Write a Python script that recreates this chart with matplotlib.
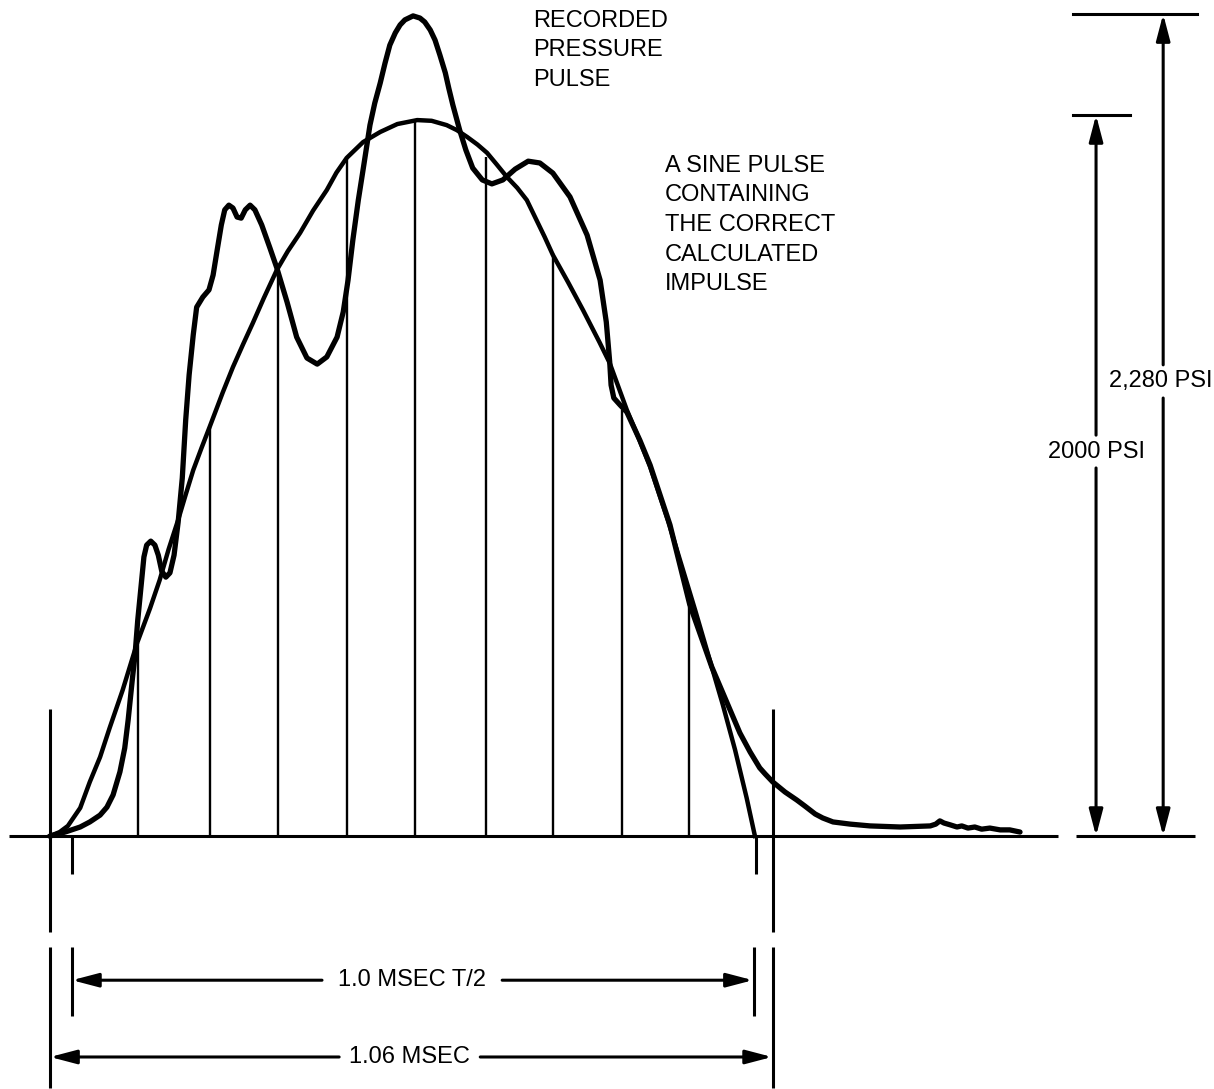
import numpy as np
import matplotlib.pyplot as plt

plt.rcParams['font.family'] = ['Liberation Sans', 'DejaVu Sans']

# recorded pressure pulse (time in msec, pressure in psi)
rec_t = [-0.032, -0.010, 0.012, 0.026, 0.041, 0.051, 0.060, 0.070, 0.077, 0.082,
         0.088, 0.092, 0.096, 0.101, 0.105, 0.109, 0.115, 0.121, 0.126, 0.131,
         0.137, 0.143, 0.149, 0.155, 0.161, 0.166, 0.171, 0.177, 0.182, 0.191,
         0.200, 0.206, 0.212, 0.218, 0.223, 0.229, 0.235, 0.241, 0.247, 0.253,
         0.260, 0.267, 0.277, 0.289, 0.299, 0.314, 0.328, 0.343, 0.358, 0.372,
         0.387, 0.396, 0.403, 0.410, 0.418, 0.426, 0.435, 0.442, 0.450, 0.457,
         0.464, 0.472, 0.479, 0.486, 0.498, 0.508, 0.515, 0.523, 0.530, 0.537,
         0.545, 0.550, 0.556, 0.566, 0.575, 0.585, 0.599, 0.613,
         0.629, 0.647, 0.666, 0.683, 0.702, 0.727, 0.752, 0.771, 0.780, 0.785,
         0.787, 0.791, 0.800, 0.810, 0.829, 0.844, 0.873, 0.902, 0.934, 0.975,
         0.990, 1.004, 1.012, 1.023, 1.041, 1.058, 1.070, 1.085, 1.096, 1.111,
         1.136, 1.165, 1.209, 1.253, 1.261, 1.267,
         1.273, 1.282, 1.292, 1.299, 1.308, 1.318, 1.328, 1.340, 1.355, 1.369,
         1.384]
rec_p = [0, 11, 25, 39, 58, 80, 114, 178, 244, 322,
         433, 502, 599, 696, 774, 807, 818, 807, 779, 735,
         718, 730, 779, 871, 993, 1154, 1279, 1390, 1467, 1495,
         1515, 1556, 1626, 1695, 1737, 1750, 1742, 1717, 1714, 1737,
         1750, 1737, 1695, 1631, 1576, 1481, 1384, 1326, 1309, 1329,
         1384, 1454, 1542, 1653, 1764, 1861, 1972, 2033, 2089, 2144,
         2194, 2228, 2250, 2264, 2275, 2269, 2258, 2236, 2208, 2167,
         2117, 2075, 2028, 1958, 1903, 1853, 1820, 1809,
         1820, 1850, 1872, 1867, 1839, 1773, 1667, 1542, 1426, 1315,
         1251, 1215, 1196, 1176, 1098, 1029, 863, 641, 469, 286,
         233, 189, 172, 150, 122, 100, 83, 61, 50, 39,
         33, 28, 25, 28, 33, 42,
         36, 31, 25, 28, 22, 25, 19, 22, 17, 17,
         11]

# sine pulse with the correct impulse
sine_t = [-0.032, -0.018, -0.006, 0.012, 0.026, 0.041, 0.055, 0.074, 0.095, 0.114,
          0.128, 0.141, 0.155, 0.166, 0.177, 0.189, 0.201, 0.220, 0.235, 0.250,
          0.264, 0.280, 0.299, 0.315, 0.333, 0.352, 0.372, 0.386, 0.401, 0.425,
          0.450, 0.475, 0.504, 0.525, 0.547, 0.562, 0.577, 0.592, 0.606, 0.620,
          0.635, 0.650, 0.664, 0.690, 0.702, 0.724, 0.746, 0.770, 0.785, 0.810,
          0.827, 0.844, 0.870, 0.892, 0.910, 0.934, 0.950, 0.968, 0.985, 0.997]
sine_p = [0, 11, 28, 78, 150, 219, 300, 405, 535, 632,
          710, 795, 877, 947, 1015, 1076, 1135, 1230, 1301, 1365,
          1423, 1492, 1570, 1622, 1673, 1735, 1792, 1840, 1881, 1925,
          1953, 1975, 1986, 1984, 1972, 1958, 1939, 1918, 1895, 1863,
          1828, 1798, 1764, 1662, 1612, 1537, 1459, 1370, 1312, 1182,
          1105, 1024, 875, 738, 625, 469, 365, 239, 105, 0]

# ordinates drawn under the sine pulse
ord_t = [0.096, 0.201, 0.301, 0.401, 0.501, 0.604, 0.702, 0.803, 0.901]
ord_p = [535, 1140, 1578, 1881, 1986, 1884, 1617, 1182, 635]

peak_sine = 2000
peak_rec = 2280

fig = plt.figure(figsize=(12.14, 10.89), dpi=100)
ax = fig.add_axes([0, 0, 1, 1])
ax.set_xlim(-0.1051, 1.6672)
ax.set_ylim(-701.8, 2319.1)
ax.axis('off')

k = 'black'

# base line
ax.plot([-0.092, 1.439], [0, 0], color=k, lw=2.2, solid_capstyle='butt')
ax.plot([1.466, 1.639], [0, 0], color=k, lw=2.2, solid_capstyle='butt')

# ordinates
ax.vlines(ord_t, 0, ord_p, color=k, lw=1.7)

# curves
ax.plot(sine_t, sine_p, color=k, lw=3.2, solid_joinstyle='round')
ax.plot(rec_t, rec_p, color=k, lw=3.8, solid_joinstyle='round', solid_capstyle='round')

# peak reference lines
ax.plot([1.461, 1.642], [peak_rec, peak_rec], color=k, lw=2.2)
ax.plot([1.461, 1.545], [peak_sine, peak_sine], color=k, lw=2.2)

arw = dict(arrowstyle='-|>,head_length=1.6,head_width=0.42', color=k, lw=2.2,
           shrinkA=0, shrinkB=0, mutation_scale=10)

def arrow(x0, y0, x1, y1):
    ax.annotate('', xy=(x1, y1), xytext=(x0, y0), arrowprops=arw)

# vertical dimension arrows
arrow(1.495, 1112, 1.495, peak_sine)
arrow(1.495, 1021, 1.495, 0)
arrow(1.593, 1307, 1.593, peak_rec)
arrow(1.593, 1215, 1.593, 0)
ax.text(1.495, 1066, '2000 PSI', ha='center', va='center', fontsize=17)
ax.text(1.590, 1261, '2,280 PSI', ha='center', va='center', fontsize=17)

# extension lines at the ends of the pulses
ax.vlines([-0.032, 1.023], 352, -266, color=k, lw=2.2)
ax.vlines([0.0, 0.998], 0, -105, color=k, lw=2.2)
ax.vlines([-0.032, 1.023], -308, -699, color=k, lw=2.2)
ax.vlines([0.0, 0.996], -308, -500, color=k, lw=2.2)

# horizontal dimension arrows
arrow(0.365, -400, 0.0, -400)
arrow(0.628, -400, 0.994, -400)
ax.text(0.496, -400, '1.0 MSEC T/2', ha='center', va='center', fontsize=17)
arrow(0.390, -613, -0.032, -613)
arrow(0.596, -613, 1.022, -613)
ax.text(0.492, -613, '1.06 MSEC', ha='center', va='center', fontsize=17)

# labels
ax.text(0.673, 2292, 'RECORDED\nPRESSURE\nPULSE', ha='left', va='top',
        fontsize=17, linespacing=1.45)
ax.text(0.866, 1890, 'A SINE PULSE\nCONTAINING\nTHE CORRECT\nCALCULATED\nIMPULSE',
        ha='left', va='top', fontsize=17, linespacing=1.45)

fig.savefig('out.png', dpi=100)
